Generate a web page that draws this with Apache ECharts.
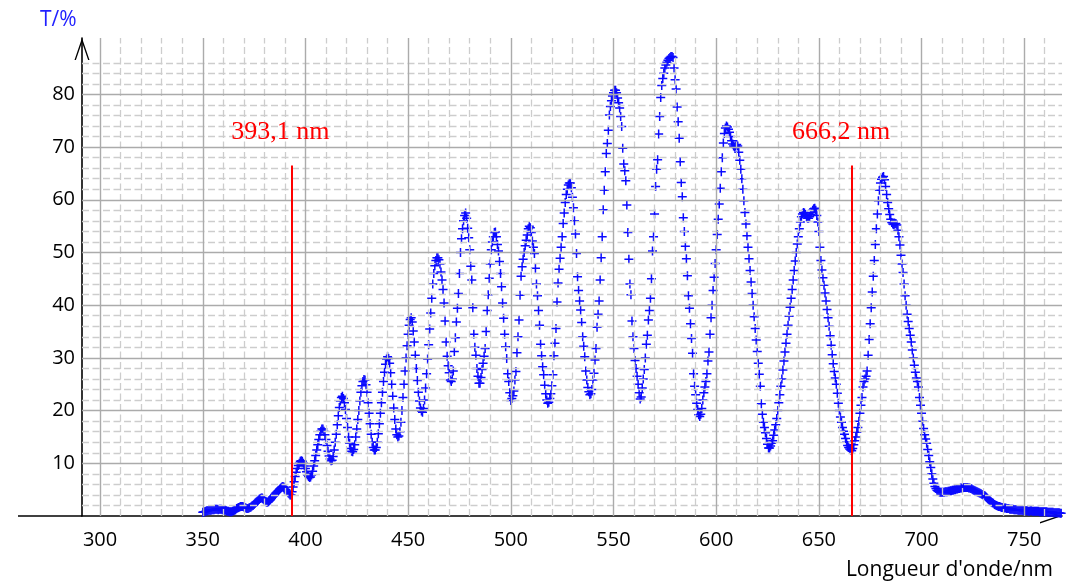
<!DOCTYPE html>
<html>
<head>
<meta charset="utf-8">
<script src="https://cdn.jsdelivr.net/npm/echarts@6/dist/echarts.min.js"></script>
<style>
html,body{margin:0;padding:0;background:#fff;}
#chart{width:1069px;height:582px;}
</style>
</head>
<body>
<div id="chart"></div>
<script>
// ---- data ----
const wavelengthStart = 350;   // nm, first sample
const wavelengthStep = 0.5;    // nm between samples
const transmission = [
  0.7,0.8,0.8,0.9,1.0,1.0,1.1,1.1,1.1,1.2,1.2,1.2,1.3,1.3,1.3,1.2,1.3,1.3,1.3,1.2,
  1.2,1.1,1.1,1.0,0.9,0.9,0.8,0.8,0.8,0.9,1.0,1.1,1.2,1.4,1.5,1.6,1.7,1.8,1.8,1.8,
  1.7,1.6,1.5,1.4,1.4,1.5,1.6,1.7,1.9,2.0,2.2,2.4,2.6,2.8,3.0,3.2,3.3,3.4,3.4,3.2,
  3.0,2.8,2.6,2.6,2.7,2.9,3.1,3.3,3.6,3.8,4.1,4.3,4.5,4.7,4.9,5.1,5.3,5.5,5.6,5.5,
  5.3,5.0,4.7,4.4,4.2,4.0,4.0,4.6,5.5,6.5,7.5,8.3,9.0,9.6,10.0,10.4,10.5,10.4,10.0,9.5,
  9.0,8.4,7.8,7.5,7.3,7.4,7.8,8.5,9.5,10.5,11.5,12.5,13.5,14.5,15.4,16.1,16.5,16.5,16.1,15.4,
  14.5,13.4,12.3,11.4,10.8,10.5,10.6,11.3,12.5,14.0,15.5,17.3,19.0,20.6,21.8,22.5,22.7,22.3,21.5,20.2,
  18.5,16.8,15.0,13.8,12.8,12.3,12.2,12.6,13.5,15.0,16.5,18.3,20.0,21.8,23.5,24.7,25.5,25.9,25.8,24.9,
  23.5,21.5,19.5,17.5,15.5,14.0,13.0,12.5,12.5,13.0,14.0,15.6,17.5,19.5,21.5,23.5,25.5,27.3,28.8,29.8,
  30.2,29.9,29.0,27.2,25.0,22.7,20.5,18.3,16.5,15.4,15.0,15.2,16.0,17.8,20.0,22.5,25.0,27.5,30.0,32.3,
  34.5,36.2,37.3,37.6,36.8,35.1,33.0,30.5,28.0,25.7,23.5,21.8,20.5,19.9,19.7,20.4,22.0,24.3,27.0,29.8,
  32.5,35.5,38.5,41.3,44.0,46.0,47.5,48.5,49.0,49.0,48.6,47.8,46.3,44.8,43.0,40.4,37.0,33.0,30.3,28.5,
  27.2,25.8,25.5,26.0,27.5,31.2,33.8,36.8,39.4,42.2,46.0,50.0,52.6,54.5,56.0,57.0,57.5,56.5,54.6,52.8,
  50.5,47.4,44.8,39.5,34.5,32.0,30.5,28.0,26.5,25.2,25.2,26.3,27.8,29.0,30.3,31.8,35.0,39.0,42.0,45.1,
  47.8,50.5,52.0,53.0,53.8,53.9,53.0,51.5,50.3,48.3,46.0,43.5,40.4,37.5,34.5,32.1,29.9,27.0,25.5,23.4,
  21.9,22.3,22.8,23.7,25.8,27.4,31.0,34.0,37.2,41.9,45.5,47.3,48.7,50.0,51.3,52.3,53.3,54.5,55.0,54.7,
  53.8,52.2,51.0,49.8,47.0,44.0,41.8,39.0,36.2,32.6,30.4,28.3,26.8,24.8,23.2,22.0,21.4,21.6,22.3,23.2,
  24.7,26.8,30.4,32.8,35.6,40.6,44.2,46.8,48.9,51.0,53.0,55.5,57.5,59.5,61.0,62.0,62.8,63.2,63.2,62.3,
  60.5,58.5,56.0,53.5,49.8,45.4,42.8,40.8,39.1,36.7,34.0,32.2,30.2,27.5,25.8,24.4,23.6,23.0,23.2,24.0,
  25.8,27.1,29.6,31.8,35.8,38.3,40.8,44.8,49.0,53.0,58.1,61.8,65.3,68.8,70.7,73.2,76.1,77.7,78.8,79.7,
  80.3,80.8,80.8,80.3,79.3,78.4,77.4,75.8,73.9,69.8,66.8,65.5,63.6,59.0,53.8,48.7,44.0,42.0,37.0,34.0,
  31.8,29.5,28.0,26.5,25.0,23.4,22.2,22.6,24.3,26.0,27.8,30.0,32.6,34.3,37.2,39.0,41.3,45.0,50.3,53.0,
  57.3,62.5,65.8,67.6,72.5,75.8,79.4,81.7,83.0,84.0,85.0,85.6,86.1,86.5,86.8,87.0,87.2,87.2,87.0,85.0,
  82.8,81.0,77.6,74.8,71.7,67.2,63.3,60.6,56.6,54.0,51.2,48.8,45.6,41.8,39.4,36.5,33.7,30.9,27.0,24.6,
  23.0,21.4,20.2,19.2,18.9,19.3,20.4,22.0,23.4,24.5,25.5,27.0,29.4,31.1,34.5,37.6,40.0,42.8,45.3,47.9,
  50.5,53.4,56.3,59.2,62.2,65.3,68.0,70.8,72.6,73.6,74.0,73.8,73.4,72.8,72.0,71.2,70.6,70.2,70.0,70.2,
  70.5,70.2,69.0,67.5,65.8,64.0,62.0,59.8,57.6,55.4,53.2,51.0,48.8,46.6,44.4,42.2,40.0,37.8,35.6,33.4,
  31.2,29.0,26.9,24.6,21.3,19.3,17.8,16.8,15.8,14.7,13.6,12.9,12.9,13.3,13.8,14.3,15.3,16.3,17.3,18.5,
  20.0,21.5,23.0,24.6,26.0,27.7,29.4,31.1,32.8,34.5,36.2,37.9,39.6,41.3,43.0,44.8,46.6,48.4,50.0,51.6,
  53.0,54.5,55.8,56.8,57.3,57.6,57.5,57.2,56.8,56.5,56.5,56.8,57.2,57.6,58.0,58.3,58.4,58.0,57.0,55.8,
  54.0,51.0,48.5,46.7,45.2,43.8,42.3,40.8,39.2,37.6,36.0,34.2,32.4,30.6,28.9,27.4,26.2,25.0,23.3,21.4,
  20.0,18.8,17.8,16.8,16.1,15.5,14.7,14.0,13.4,13.0,12.7,12.5,12.4,12.8,13.5,14.3,15.0,15.9,16.8,18.0,
  19.5,21.0,22.5,24.5,25.5,26.0,26.5,27.5,30.5,33.5,36.5,39.5,42.5,45.5,48.5,51.5,54.5,57.3,59.8,61.8,
  63.2,63.9,64.3,64.4,63.8,62.5,61.0,59.5,58.3,57.2,56.3,55.7,55.4,55.3,55.4,55.5,55.2,54.2,53.0,51.4,
  49.5,47.8,46.2,44.0,41.8,40.0,38.3,36.9,35.6,34.3,33.0,31.5,30.0,28.6,27.3,26.2,25.5,24.5,22.5,21.0,
  19.5,18.0,16.6,15.4,14.6,13.8,12.6,11.5,10.3,9.2,8.0,7.0,6.2,5.6,5.2,4.9,4.7,4.6,4.5,4.5,
  4.5,4.5,4.5,4.6,4.6,4.6,4.7,4.7,4.8,4.8,4.9,4.9,5.0,5.0,5.1,5.1,5.2,5.2,5.3,5.3,
  5.3,5.4,5.4,5.4,5.4,5.4,5.3,5.3,5.2,5.1,5.0,4.9,4.8,4.7,4.6,4.5,4.4,4.3,4.2,4.1,
  4.0,3.9,3.8,3.6,3.4,3.2,3.0,2.8,2.6,2.5,2.4,2.2,2.1,2.0,1.9,1.8,1.8,1.7,1.6,1.6,
  1.5,1.5,1.5,1.4,1.4,1.4,1.3,1.3,1.3,1.3,1.2,1.2,1.2,1.2,1.1,1.1,1.1,1.1,1.1,1.0,
  1.0,1.0,1.0,1.0,0.9,0.9,1.0,1.0,0.9,0.9,0.9,0.9,0.9,0.9,0.9,0.8,0.8,0.8,0.8,0.8,
  0.8,0.8,0.8,0.7,0.7,0.7,0.7,0.7,0.7,0.6,0.6,0.6,0.6,0.6,0.6,0.5,0.5
];
const xTickLabels = [300, 350, 400, 450, 500, 550, 600, 650, 700, 750];
const yTickLabels = [10, 20, 30, 40, 50, 60, 70, 80];
const markerWavelengths = [393.1, 666.2];
const markerLabels = ['393,1 nm', '666,2 nm'];
const markerTop = 66.5;
const xAxisName = "Longueur d'onde/nm";
const yAxisName = 'T/%';

// ---- chart ----
const xMin = 291.2, xMax = 768.4, yMin = 0, yMax = 90.7;
const points = transmission.map((t, i) => [wavelengthStart + i * wavelengthStep, t]);

const majorV = [], minorV = [], majorH = [], minorH = [];
for (let v = 300; v <= 760; v += 10) (v % 50 === 0 ? majorV : minorV).push({ xAxis: v });
for (let v = 2; v <= 86; v += 2) (v % 10 === 0 ? majorH : minorH).push({ yAxis: v });

const arrowPath = 'path://M0,22L7.5,0L15,22L13.6,22L7.5,4.2L1.4,22Z';
const axisFont = 'Open Sans';

const chart = echarts.init(document.getElementById('chart'), null, { renderer: 'canvas' });
chart.setOption({
  animation: false,
  backgroundColor: '#ffffff',
  grid: { left: 82, right: 7, top: 38, bottom: 66, containLabel: false },
  xAxis: {
    type: 'value', min: xMin, max: xMax, splitNumber: 10, minInterval: 50, maxInterval: 50,
    axisLine: { show: true, lineStyle: { color: '#000', width: 1.6 },
      symbol: ['none', arrowPath], symbolSize: [18, 22], symbolOffset: [0, -11] },
    axisTick: { show: false },
    splitLine: { show: false },
    axisLabel: {
      margin: 14, fontSize: 20, fontFamily: axisFont, color: '#000',
      showMinLabel: true, showMaxLabel: true,
      formatter: v => (xTickLabels.indexOf(Math.round(v * 1000) / 1000) >= 0 ? String(v) : '')
    }
  },
  yAxis: {
    type: 'value', min: yMin, max: yMax, interval: 10,
    axisLine: { show: true, lineStyle: { color: '#000', width: 1.6 },
      symbol: ['none', arrowPath], symbolSize: [15, 22], symbolOffset: [0, -11] },
    axisTick: { show: false },
    splitLine: { show: false },
    axisLabel: {
      margin: 7, fontSize: 20, fontFamily: axisFont, color: '#000', padding: [0, 0, 16, 0],
      formatter: v => (yTickLabels.indexOf(v) >= 0 ? String(v) : '')
    }
  },
  graphic: [
    { type: 'line', shape: { x1: 18, y1: 516, x2: 82, y2: 516 }, style: { stroke: '#000', lineWidth: 1.6 }, z: 10 },
    { type: 'text', left: 40, top: 10, style: { text: yAxisName, fill: '#1f1fff', font: '21px "Open Sans"' }, z: 10 },
    { type: 'text', right: 16, top: 560, style: { text: xAxisName, fill: '#000', font: '21px "Open Sans"' }, z: 10 }
  ],
  series: [
    {
      name: 'grid', type: 'line', data: [], silent: true, z: 1,
      markLine: {
        silent: true, symbol: ['none', 'none'], label: { show: false }, animation: false,
        data: [
          ...minorV.map(d => Object.assign({ lineStyle: { color: '#cdcdcd', width: 1.3, type: [7, 3.5] } }, d)),
          ...minorH.map(d => Object.assign({ lineStyle: { color: '#cdcdcd', width: 1.3, type: [7, 3.5] } }, d)),
          ...majorV.map(d => Object.assign({ lineStyle: { color: '#ababab', width: 1.4, type: 'solid' } }, d)),
          ...majorH.map(d => Object.assign({ lineStyle: { color: '#ababab', width: 1.4, type: 'solid' } }, d))
        ]
      }
    },
    {
      name: 'T', type: 'scatter', data: points, z: 2, large: false,
      symbol: 'path://M4,0L4,8M0,4L8,4', symbolSize: 9,
      itemStyle: { color: 'rgba(0,0,0,0)', borderColor: '#0a0aff', borderWidth: 1.5, opacity: 1 }
    },
    {
      name: 'markers', type: 'line', data: [], silent: true, z: 3,
      markLine: {
        silent: true, symbol: ['none', 'none'], animation: false,
        lineStyle: { color: '#ff0000', width: 2, type: 'solid' },
        label: { show: true, position: 'end', distance: 20, offset: [-11, 0],
          color: '#ff0000', fontFamily: 'Liberation Serif', fontSize: 26 },
        data: markerWavelengths.map((w, i) => [
          { coord: [w, yMin], label: { formatter: markerLabels[i] } },
          { coord: [w, markerTop] }
        ])
      }
    }
  ]
});
</script>
</body>
</html>
